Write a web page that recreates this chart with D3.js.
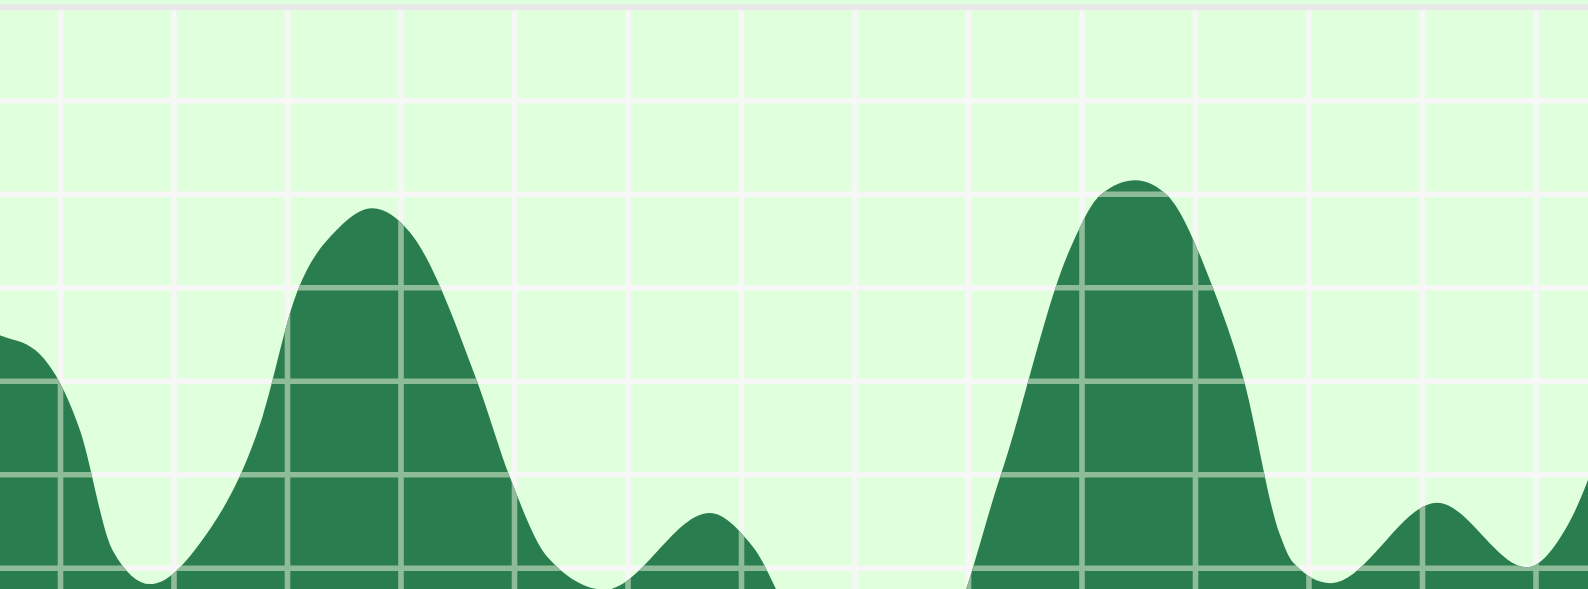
<!DOCTYPE html>
<html>
<head>
<meta charset="utf-8">
<script src="https://cdn.jsdelivr.net/npm/d3@7"></script>
<style>
  html, body { margin: 0; padding: 0; background: #e0ffdc; overflow: hidden; }
  svg { display: block; }
</style>
</head>
<body>
<svg id="chart" width="1588" height="589"></svg>
<script>
// ---- data ----
const xValues = [0.03, 0.47, 0.78, 1.17, 1.46, 1.79, 2.23, 2.78, 3.06, 3.46, 3.75, 4.08, 4.67, 4.97, 5.29, 5.80, 6.72, 7.10, 7.52, 8.13, 8.75, 9.28, 9.89, 10.16, 10.47, 10.75, 11.15, 11.42, 11.74, 11.86, 12.19, 13.13, 13.92, 14.27, 14.65];
const yValues = [36.8, 34.9, 33.3, 24.8, 11.9, 8.3, 12.7, 26.2, 38.7, 46.5, 48.5, 45.9, 30.0, 19.4, 11.2, 7.7, 15.9, 12.3, 3.4, 0.2, 2.3, 19.8, 44.0, 49.9, 51.5, 49.9, 40.1, 30.4, 13.7, 10.6, 8.4, 17.0, 10.1, 14.4, 25.9];
const xGridTicks = [0, 1, 2, 3, 4, 5, 6, 7, 8, 9, 10, 11, 12, 13, 14, 15];
const yGridTicks = [10, 20, 30, 40, 50, 60];
const yTopTick = 70;
const baseValue = -20;

// ---- layout ----
const W = 1588, H = 589;
const svg = d3.select("#chart");

const x = d3.scaleLinear().domain([1, 14]).range([60.5, 60.5 + 13 * 113.5]);
const y = d3.scaleLinear().domain([10, 60]).range([568.2, 100.7]);

const data = xValues.map((v, i) => ({ x: v, y: yValues[i] }));

const colBg = "#e0ffdc";
const colGrid = "#f7f7f7";
const colTop = "#e9e9e9";
const colArea = "#2a7d4e";
const colGridOnArea = "#8fbc98";
const gw = 5.6;

svg.append("rect").attr("width", W).attr("height", H).attr("fill", colBg);

const topY = y(yTopTick);

function drawGrid(g, color) {
  g.selectAll("line.v").data(xGridTicks).join("line")
    .attr("class", "v")
    .attr("x1", d => x(d)).attr("x2", d => x(d))
    .attr("y1", topY).attr("y2", H + 10)
    .attr("stroke", color).attr("stroke-width", gw);
  g.selectAll("line.h").data(yGridTicks).join("line")
    .attr("class", "h")
    .attr("x1", -10).attr("x2", W + 10)
    .attr("y1", d => y(d)).attr("y2", d => y(d))
    .attr("stroke", color).attr("stroke-width", gw);
}

drawGrid(svg.append("g"), colGrid);

// top border band
svg.append("line")
  .attr("x1", -10).attr("x2", W + 10)
  .attr("y1", topY).attr("y2", topY)
  .attr("stroke", colTop).attr("stroke-width", 6);

const area = d3.area()
  .x(d => x(d.x))
  .y0(y(baseValue))
  .y1(d => y(d.y))
  .curve(d3.curveMonotoneX);

const areaPath = area(data);

svg.append("path").attr("d", areaPath).attr("fill", colArea);

svg.append("clipPath").attr("id", "areaClip")
  .append("path").attr("d", areaPath);

drawGrid(svg.append("g").attr("clip-path", "url(#areaClip)"), colGridOnArea);
</script>
</body>
</html>
